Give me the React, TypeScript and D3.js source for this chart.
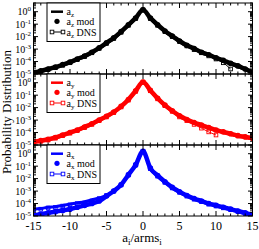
import React, { useEffect, useRef } from "react";
import * as d3 from "d3";

// x grid shared by every series (a_i / arms_i)
const xs = [-15, -14, -13, -12, -11, -10, -9, -8, -7, -6, -5, -4, -3, -2, -1, 0, 1, 2, 3, 4, 5, 6, 7, 8, 9, 10, 11, 12, 13, 14, 15];
const xTicks = [-15, -10, -5, 0, 5, 10, 15];
const yExps = [-5, -4, -3, -2, -1, 0];

// log10 of the probability distribution (null = no data)
const azLine = [-4.95, -4.8, -4.65, -4.5, -4.3, -4.1, -3.85, -3.6, -3.3, -2.95, -2.55, -2.15, -1.65, -1.1, -0.55, 0.15, -0.55, -1.1, -1.6, -2.0, -2.4, -2.75, -3.0, -3.3, -3.5, -3.75, -3.95, -4.2, -4.4, -4.65, -4.9];
const azMod = [-4.9, -4.75, -4.6, -4.45, -4.25, -4.05, -3.8, -3.55, -3.25, -2.9, -2.5, -2.1, -1.6, -1.05, -0.5, 0.15, -0.5, -1.05, -1.55, -1.95, -2.35, -2.7, -2.95, -3.25, -3.45, -3.7, -3.9, -4.15, -4.35, -4.6, -4.85];
const azDns = [-4.95, -4.8, -4.65, -4.5, -4.3, -4.1, -3.85, -3.6, -3.3, -2.95, -2.55, -2.15, -1.65, -1.1, -0.55, 0.15, -0.55, -1.1, -1.6, -2.0, -2.4, -2.75, -3.05, -3.3, -3.55, -3.8, -4.1, -4.6, null, null, null];

const ayLine = [-4.8, -4.7, -4.6, -4.45, -4.25, -4.05, -3.85, -3.6, -3.35, -3.05, -2.75, -2.4, -1.95, -1.4, -0.7, 0.05, -0.65, -1.3, -1.85, -2.3, -2.7, -3.0, -3.25, -3.45, -3.65, -3.85, -4.0, -4.15, -4.3, -4.4, -4.5];
const ayMod = [-4.75, -4.65, -4.55, -4.4, -4.2, -4.0, -3.8, -3.55, -3.3, -3.0, -2.7, -2.35, -1.9, -1.35, -0.65, 0.05, -0.6, -1.25, -1.8, -2.25, -2.65, -2.95, -3.2, -3.4, -3.6, -3.8, -3.95, -4.1, -4.25, -4.35, -4.45];
const ayDns = [-4.8, -4.7, -4.6, -4.45, -4.25, -4.05, -3.85, -3.6, -3.35, -3.05, -2.75, -2.4, -1.95, -1.4, -0.7, 0.05, -0.65, -1.3, -1.85, -2.3, -2.75, -3.05, -3.35, -3.65, -3.95, -4.2, null, null, null, null, null];

const axLine = [-4.45, -4.4, -4.3, -4.25, -4.15, -4.05, -3.95, -3.85, -3.7, -3.55, -3.35, -3.0, -2.5, -1.7, -0.9, 0.2, -1.2, -1.8, -2.3, -2.75, -3.1, -3.4, -3.65, -3.85, -4.05, -4.2, -4.35, -4.5, -4.65, -4.8, -4.95];
const axMod = [-4.95, -4.85, -4.75, -4.65, -4.55, -4.45, -4.3, -4.15, -4.0, -3.8, -3.4, -3.0, -2.5, -1.7, -0.9, 0.2, -1.15, -1.75, -2.25, -2.7, -3.05, -3.35, -3.6, -3.8, -4.0, -4.15, -4.3, -4.45, -4.6, -4.75, -4.9];
const axDns = [-4.5, -4.45, -4.35, -4.3, -4.2, -4.1, -4.0, -3.95, -3.8, -3.6, -3.35, -3.0, -2.5, -1.7, -0.9, 0.2, -1.2, -1.8, -2.3, -2.75, -3.1, -3.4, -3.65, -3.85, -4.05, -4.2, -4.35, -4.5, -4.65, -4.8, -4.95];

const panels = [
  { comp: "z", color: "#000000", line: azLine, mod: azMod, dns: azDns },
  { comp: "y", color: "#ff0000", line: ayLine, mod: ayMod, dns: ayDns },
  { comp: "x", color: "#0000ff", line: axLine, mod: axMod, dns: axDns },
];

const FONT = "'Liberation Serif', 'Times New Roman', serif";

export default function App() {
  const ref = useRef<SVGSVGElement>(null);

  useEffect(() => {
    document.body.style.margin = "0";
    const svg = d3.select(ref.current);
    svg.selectAll("*").remove();

    const left = 33.5, right = 252.5, panelH = 71, top0 = 3;
    const x = d3.scaleLinear().domain([-15, 15]).range([left, right]);

    panels.forEach((p, i) => {
      const top = top0 + i * panelH, bottom = top + panelH;
      const y = d3.scaleLog().domain([1e-5, 5]).range([bottom, top]);
      const g = svg.append("g");

      g.append("clipPath").attr("id", "clip" + i)
        .append("rect").attr("x", left).attr("y", top).attr("width", right - left).attr("height", panelH);
      const plot = g.append("g").attr("clip-path", `url(#clip${i})`);

      const line = d3.line<number | null>()
        .defined(v => v != null)
        .x((v, j) => x(xs[j]))
        .y(v => y(Math.pow(10, v as number)))
        .curve(d3.curveMonotoneX);

      // model curve drawn as a thick band, like the dense markers of the original
      plot.append("path").attr("d", line(p.mod)).attr("fill", "none")
        .attr("stroke", p.color).attr("stroke-width", 4.5).attr("stroke-linejoin", "round");
      plot.selectAll(".mod").data(p.mod).join("circle").attr("class", "mod")
        .attr("cx", (v, j) => x(xs[j])).attr("cy", v => y(Math.pow(10, v)))
        .attr("r", 2.8).attr("fill", p.color);
      plot.append("path").attr("d", line(p.line)).attr("fill", "none")
        .attr("stroke", p.color).attr("stroke-width", 3).attr("stroke-linejoin", "round");
      plot.append("path").attr("d", line(p.dns)).attr("fill", "none")
        .attr("stroke", p.color).attr("stroke-width", 1);
      const dnsPts = p.dns.map((v, j) => [xs[j], v]).filter(d => d[1] != null) as number[][];
      plot.selectAll(".dns").data(dnsPts).join("rect").attr("class", "dns")
        .attr("x", d => x(d[0]) - 1.8).attr("y", d => y(Math.pow(10, d[1])) - 1.8)
        .attr("width", 3.6).attr("height", 3.6)
        .attr("fill", "none").attr("stroke", p.color).attr("stroke-width", 0.9);

      // frame
      g.append("rect").attr("x", left).attr("y", top).attr("width", right - left).attr("height", panelH)
        .attr("fill", "none").attr("stroke", "#000").attr("stroke-width", 1);

      // x ticks (top and bottom, inward)
      d3.range(-15, 16).forEach(v => {
        const len = v % 5 === 0 ? 5 : 2.5;
        g.append("line").attr("x1", x(v)).attr("x2", x(v)).attr("y1", bottom).attr("y2", bottom - len).attr("stroke", "#000");
        g.append("line").attr("x1", x(v)).attr("x2", x(v)).attr("y1", top).attr("y2", top + len).attr("stroke", "#000");
      });

      // y ticks (left and right, inward)
      yExps.forEach(e => {
        const yy = y(Math.pow(10, e));
        g.append("line").attr("x1", left).attr("x2", left + 4.5).attr("y1", yy).attr("y2", yy).attr("stroke", "#000");
        g.append("line").attr("x1", right).attr("x2", right - 4.5).attr("y1", yy).attr("y2", yy).attr("stroke", "#000");
        d3.range(2, 10).forEach(m => {
          const ym = y(m * Math.pow(10, e));
          if (ym < top) return;
          g.append("line").attr("x1", left).attr("x2", left + 2.5).attr("y1", ym).attr("y2", ym).attr("stroke", "#000");
          g.append("line").attr("x1", right).attr("x2", right - 2.5).attr("y1", ym).attr("y2", ym).attr("stroke", "#000");
        });
        const t = g.append("text").attr("x", 31).attr("y", yy + 3.5).attr("text-anchor", "end")
          .attr("font-family", FONT).attr("font-size", 10).text("10");
        t.append("tspan").attr("dy", -4).attr("font-size", 7).text(String(e));
      });

      // legend
      const lg = g.append("g");
      lg.append("rect").attr("x", 47).attr("y", top).attr("width", 53).attr("height", 38.5)
        .attr("fill", "#fff").attr("stroke", "#000").attr("stroke-width", 1);
      const rows = [top + 8.7, top + 18.3, top + 29];
      const labels = ["", " mod", " DNS"];
      rows.forEach((ry, k) => {
        const t = lg.append("text").attr("x", 66.5).attr("y", ry + 3.5)
          .attr("font-family", FONT).attr("font-size", 10).text("a");
        t.append("tspan").attr("dy", 2).attr("font-size", 7).text(p.comp);
        if (labels[k]) t.append("tspan").attr("dy", -2).text(labels[k]);
      });
      lg.append("line").attr("x1", 51).attr("x2", 63).attr("y1", rows[0]).attr("y2", rows[0])
        .attr("stroke", p.color).attr("stroke-width", 2.5);
      lg.append("circle").attr("cx", 57).attr("cy", rows[1]).attr("r", 2.6).attr("fill", p.color);
      lg.append("line").attr("x1", 52).attr("x2", 63).attr("y1", rows[2]).attr("y2", rows[2])
        .attr("stroke", p.color).attr("stroke-width", 1);
      [52, 63].forEach(cx => {
        lg.append("rect").attr("x", cx - 1.8).attr("y", rows[2] - 1.8).attr("width", 3.6).attr("height", 3.6)
          .attr("fill", "#fff").attr("stroke", p.color).attr("stroke-width", 0.9);
      });
    });

    // x tick labels
    const bottomY = top0 + 3 * panelH;
    xTicks.forEach(v => {
      svg.append("text").attr("x", x(v)).attr("y", bottomY + 14).attr("text-anchor", "middle")
        .attr("font-family", FONT).attr("font-size", 12).text(String(v));
    });

    // axis titles
    const xl = svg.append("text").attr("x", 142).attr("y", 242).attr("text-anchor", "middle")
      .attr("font-family", FONT).attr("font-size", 13).text("a");
    xl.append("tspan").attr("dy", 3).attr("font-size", 9).text("i");
    xl.append("tspan").attr("dy", -3).text("/arms");
    xl.append("tspan").attr("dy", 3).attr("font-size", 9).text("i");

    svg.append("text").attr("transform", "translate(11,112) rotate(-90)").attr("text-anchor", "middle")
      .attr("font-family", FONT).attr("font-size", 13).text("Probability Distribution");
  }, []);

  return <svg ref={ref} width={259} height={249} style={{ display: "block" }}></svg>;
}
